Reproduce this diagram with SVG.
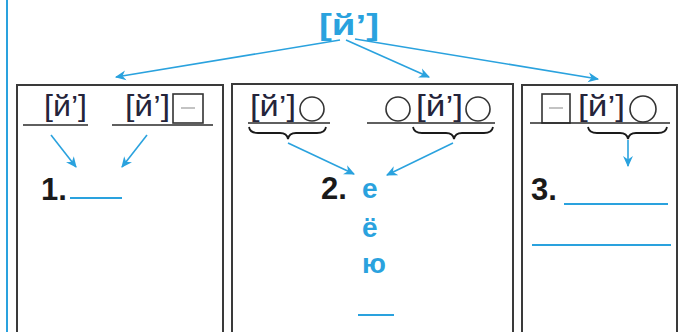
<svg xmlns="http://www.w3.org/2000/svg" width="682" height="332" viewBox="0 0 682 332">
<defs>
<marker id="ah" viewBox="0 0 10 10" refX="9" refY="5" markerWidth="11" markerHeight="11" orient="auto" markerUnits="userSpaceOnUse">
<path d="M0,0.5 L10,5 L0,9.5 L3,5 z" fill="#2aa2de"/>
</marker>
<style>
.box{fill:#fff;stroke:#3a3a3a;stroke-width:2}
.ul{stroke:#2a2a2a;stroke-width:1.6}
.bl{stroke:#2aa2de;stroke-width:1.8}
.arr{stroke:#2aa2de;stroke-width:1.6;fill:none;marker-end:url(#ah)}
.ph{font-family:"Liberation Sans",Arial,sans-serif;font-size:29px;fill:#24243a}
.num{font-family:"Liberation Sans",Arial,sans-serif;font-size:31px;font-weight:bold;fill:#1a1a1a}
.vow{font-family:"Liberation Sans",Arial,sans-serif;font-size:28px;font-weight:bold;fill:#2aa2de}
.circ{fill:none;stroke:#333;stroke-width:1.6}
.sq{fill:#fff;stroke:#333;stroke-width:1.6}
.dash{stroke:#aaa;stroke-width:1.4}
.brace{fill:none;stroke:#1a1a1a;stroke-width:1.8}
</style>
</defs>
<rect width="682" height="332" fill="#fff"/>
<line x1="7" y1="0" x2="7" y2="332" stroke="#2aa2de" stroke-width="2"/>

<g id="top">
<text x="349" y="35" text-anchor="middle" font-family="Liberation Sans,Arial,sans-serif" font-size="30" font-weight="bold" fill="#2aa2de" textLength="60" lengthAdjust="spacingAndGlyphs">[й’]</text>
</g>

<g id="box1">
<rect class="box" x="17" y="85" width="206" height="252"/>
<text class="ph" x="44" y="116" textLength="43" lengthAdjust="spacingAndGlyphs">[й’]</text>
<line class="ul" x1="23" y1="125" x2="88" y2="125"/>
<text class="ph" x="125" y="116" textLength="45" lengthAdjust="spacingAndGlyphs">[й’]</text>
<rect class="sq" x="173" y="94" width="30" height="29"/>
<line class="dash" x1="181" y1="108" x2="195" y2="108"/>
<line class="ul" x1="112" y1="125" x2="213" y2="125"/>
<text class="num" x="41" y="200">1.</text>
<line class="bl" x1="70" y1="198" x2="122" y2="198"/>
</g>

<g id="box2">
<rect class="box" x="232" y="84" width="281" height="253"/>
<text class="ph" x="250" y="116" textLength="46" lengthAdjust="spacingAndGlyphs">[й’]</text>
<circle class="circ" cx="312" cy="109" r="12"/>
<line class="ul" x1="248" y1="123" x2="330" y2="123"/>
<path class="brace" d="M249,127 Q250,133 258,133 L280,133 Q287,133 288,139 Q289,133 296,133 L317,133 Q325,133 326,127"/>
<circle class="circ" cx="398" cy="109" r="12"/>
<text class="ph" x="416" y="116" textLength="47" lengthAdjust="spacingAndGlyphs">[й’]</text>
<circle class="circ" cx="478" cy="109" r="12"/>
<line class="ul" x1="367" y1="123" x2="495" y2="123"/>
<path class="brace" d="M413,127 Q414,133 422,133 L446,133 Q453,133 454,139 Q455,133 462,133 L484,133 Q492,133 493,127"/>
<text class="num" x="321" y="199">2.</text>
<text class="vow" x="362" y="198">е</text>
<text class="vow" x="362" y="237">ё</text>
<text class="vow" x="362" y="273">ю</text>
<line class="bl" x1="358" y1="315" x2="394" y2="315"/>
</g>

<g id="box3">
<rect class="box" x="522" y="85" width="155" height="252"/>
<rect class="sq" x="542" y="94" width="28" height="29"/>
<line class="dash" x1="549" y1="108" x2="563" y2="108"/>
<text class="ph" x="578" y="116" textLength="47" lengthAdjust="spacingAndGlyphs">[й’]</text>
<circle class="circ" cx="643" cy="109" r="13"/>
<line class="ul" x1="530" y1="123" x2="670" y2="123"/>
<path class="brace" d="M588,127 Q589,133 597,133 L620,133 Q627,133 628,139 Q629,133 636,133 L658,133 Q666,133 667,127"/>
<text class="num" x="531" y="200">3.</text>
<line class="bl" x1="564" y1="204" x2="668" y2="204"/>
<line class="bl" x1="532" y1="245" x2="671" y2="245"/>
</g>

<g id="connectors">
<line class="arr" x1="340" y1="40" x2="116" y2="77"/>
<line class="arr" x1="346" y1="40" x2="429" y2="77"/>
<line class="arr" x1="355" y1="39" x2="598" y2="79"/>
<line class="arr" x1="51" y1="135" x2="76" y2="167"/>
<line class="arr" x1="147" y1="135" x2="122" y2="167"/>
<line class="arr" x1="288" y1="143" x2="354" y2="174"/>
<line class="arr" x1="453" y1="143" x2="387" y2="175"/>
<line class="arr" x1="628" y1="140" x2="628" y2="166"/>
</g>
</svg>
